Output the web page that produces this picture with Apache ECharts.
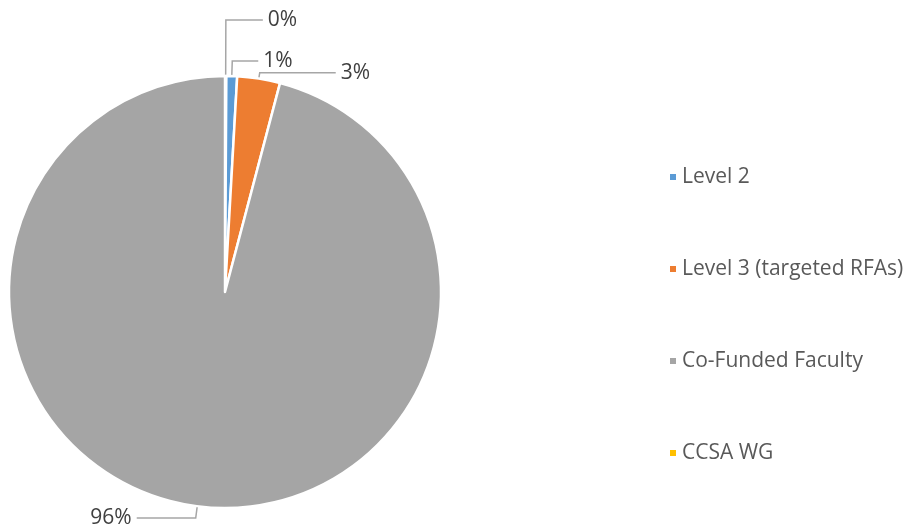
<!DOCTYPE html>
<html><head><meta charset="utf-8">
<script src="https://cdn.jsdelivr.net/npm/echarts@6/dist/echarts.min.js"></script>
<style>html,body{margin:0;padding:0;background:#fff}#c{width:908px;height:531px}</style>
</head><body><div id="c"></div>
<script>
const categories = ["Level 2", "Level 3 (targeted RFAs)", "Co-Funded Faculty", "CCSA WG"];
const values = [0.8, 3.2, 95.9, 0.1];
const colors = ["#5B9BD5", "#ED7D31", "#A5A5A5", "#FFC000"];
// drawing order around the pie (tiny CCSA WG slice sits at the very top)
const drawOrder = [3, 0, 1, 2];
// label line lengths per category: [length, length2]
const lineLen = [[15, 26], [6, 76], [12, 59], [56, 37]];

const chart = echarts.init(document.getElementById('c'));
chart.setOption({
  animation: false,
  legend: {
    orient: 'vertical',
    left: 663,
    top: 160,
    itemWidth: 8,
    itemHeight: 8,
    itemGap: 68,
    icon: 'rect',
    textStyle: { fontFamily: 'Open Sans', fontSize: 21, color: '#595959', lineHeight: 24 },
    data: categories
  },
  series: [{
    type: 'pie',
    center: [225, 292],
    radius: [0, 216],
    startAngle: 90,
    clockwise: true,
    percentPrecision: 0,
    avoidLabelOverlap: false,
    itemStyle: { borderColor: '#fff', borderWidth: 2.5 },
    label: {
      show: true,
      position: 'outside',
      formatter: '{d}%',
      fontFamily: 'Open Sans',
      fontSize: 21,
      color: '#404040'
    },
    labelLine: { show: true, lineStyle: { color: '#A6A6A6', width: 1.5 } },
    data: drawOrder.map(i => ({
      name: categories[i],
      value: values[i],
      itemStyle: { color: colors[i] },
      labelLine: { length: lineLen[i][0], length2: lineLen[i][1] }
    }))
  }]
});
</script></body></html>
